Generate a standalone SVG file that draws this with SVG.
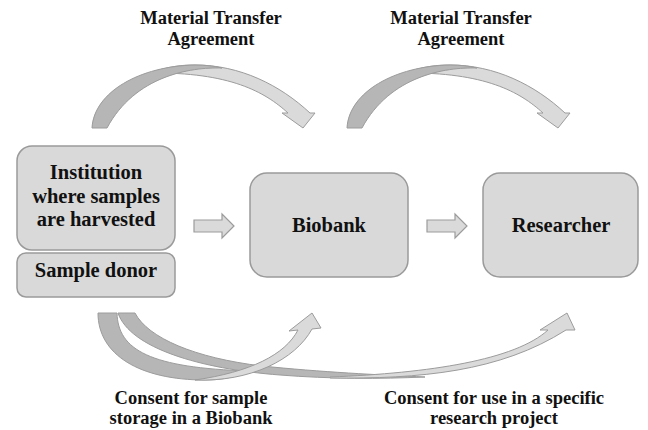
<svg xmlns="http://www.w3.org/2000/svg" width="648" height="430" viewBox="0 0 648 430">
<style>
.box{fill:#d9d9d9;stroke:#9a9a9a;stroke-width:1.5}
.t{font-family:"Liberation Serif","Times New Roman",serif;font-weight:bold;fill:#111111;text-anchor:middle}
.n{font-size:20.5px}
.l{font-size:18.5px}
.lt{fill:#dadada;stroke:#9c9c9c;stroke-width:1}
.dk{fill:#b6b6b6;stroke:#9c9c9c;stroke-width:1}
.blk{fill:#dadada;stroke:#9c9c9c;stroke-width:1.2}
</style>
<defs>
<g id="topArrow">
<path class="lt" d="M150,73 C170,66 182,65 195,65 C240,65 280,85 310,113 L315,113 L303,128 L282,113 L288,113 C265,92 230,72 150,73 Z"/>
<path class="dk" d="M92,128 C94,92 140,66 195,65 C205,65 214,66 222,68 C190,67 135,76 107,128 Z"/>
</g>
</defs>
<rect width="648" height="430" fill="#ffffff"/>
<g id="connectors">
<use href="#topArrow"/>
<use href="#topArrow" transform="translate(255,0)"/>
<path class="blk" d="M194,220 L222,220 L222,214 L234,226 L222,238 L222,232 L194,232 Z"/>
<path class="blk" d="M427,220 L455,220 L455,214 L467,226 L455,238 L455,232 L427,232 Z"/>
<path class="dk" d="M118,313 L135,313 C148,338 195,358 262,366 C320,372 380,375 425,377 C380,379 330,379 280,375 C200,369 130,348 118,313 Z"/>
<path class="dk" d="M98,313 L117,313 C118,350 150,368 250,371 C236,377 222,380 205,380 C140,380 98,355 98,313 Z"/>
<path class="lt" d="M330,378 C420,379 500,372 566,330 L575,330 L567,313 L540,330 L548,330 C515,360 430,373 330,377 Z"/>
<path class="lt" d="M195,380 C250,382 295,360 312,329 L321,328 L312,313 L289,331 L298,330 C285,355 250,372 195,380 Z"/>
</g>
<g id="institution">
<rect class="box" x="17" y="146" width="158" height="104" rx="15"/>
<text class="t n" x="96" y="179">Institution</text>
<text class="t n" x="96" y="203">where samples</text>
<text class="t n" x="96" y="226">are harvested</text>
</g>
<g id="donor">
<rect class="box" x="17" y="253" width="158" height="44" rx="9"/>
<text class="t n" x="96" y="277">Sample donor</text>
</g>
<g id="biobank">
<rect class="box" x="250" y="173" width="158" height="104" rx="17"/>
<text class="t n" x="329" y="232">Biobank</text>
</g>
<g id="researcher">
<rect class="box" x="483" y="173" width="155" height="104" rx="17"/>
<text class="t n" x="561" y="232">Researcher</text>
</g>
<g id="labels">
<text class="t l" x="211" y="24">Material Transfer</text>
<text class="t l" x="211" y="45">Agreement</text>
<text class="t l" x="461" y="24">Material Transfer</text>
<text class="t l" x="461" y="45">Agreement</text>
<text class="t l" x="191" y="404">Consent for sample</text>
<text class="t l" x="191" y="424">storage in a Biobank</text>
<text class="t l" x="494" y="404">Consent for use in a specific</text>
<text class="t l" x="494" y="424">research project</text>
</g>
</svg>
